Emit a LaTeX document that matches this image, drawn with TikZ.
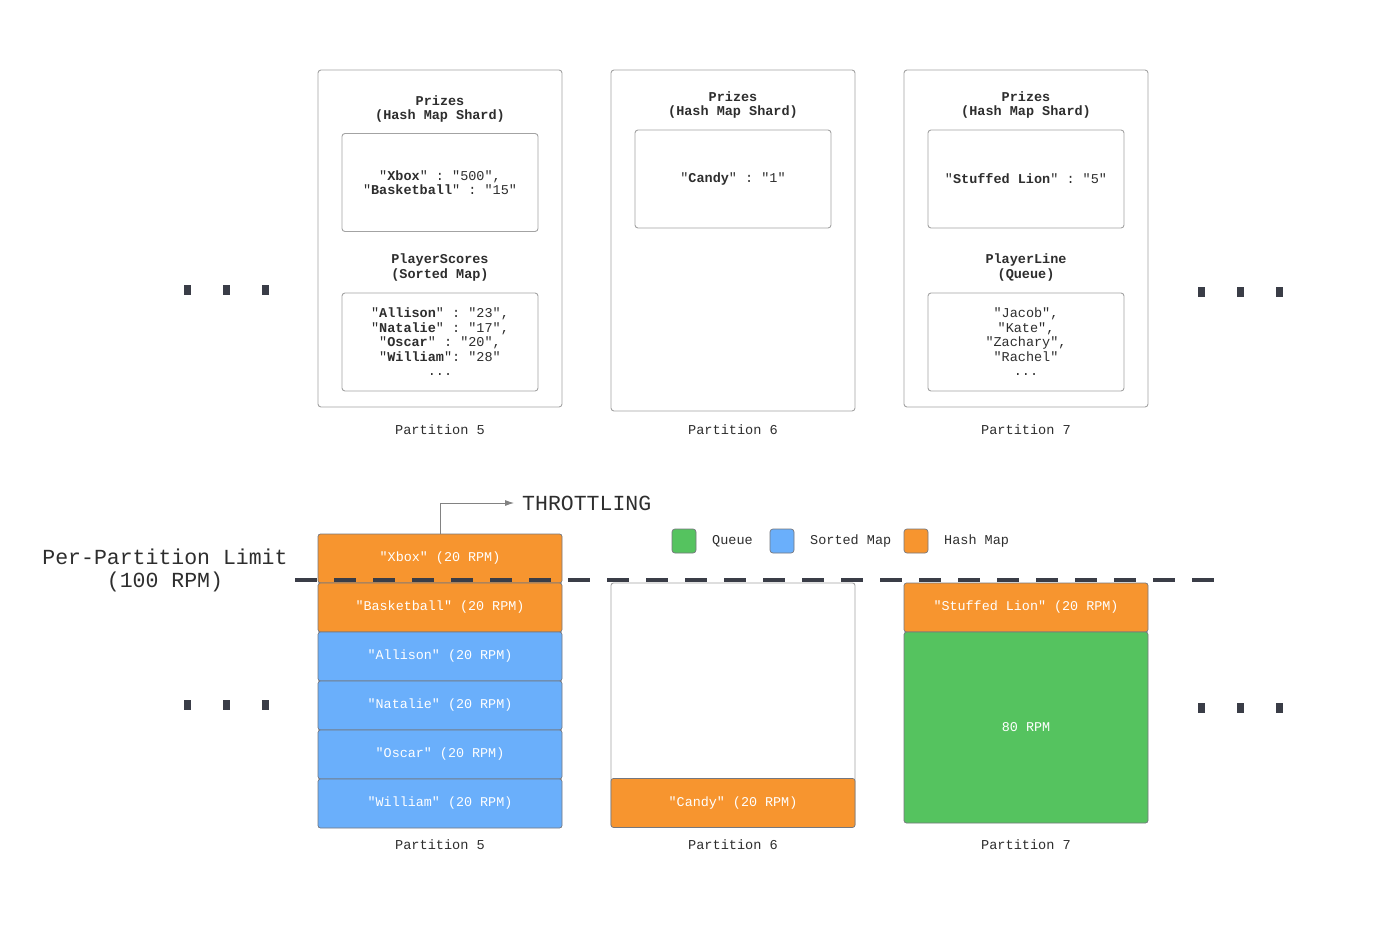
\documentclass[tikz,border=0pt]{standalone}
\usepackage{fontspec}
\setmonofont{Liberation Mono}
\usetikzlibrary{arrows.meta,positioning}
\definecolor{hashorange}{HTML}{F7952F}
\definecolor{sortblue}{HTML}{6AAFFB}
\definecolor{queuegreen}{HTML}{55C35F}
\definecolor{edgegray}{HTML}{A3A3A3}
\definecolor{inkdark}{HTML}{3A3D47}
\definecolor{textgray}{HTML}{2E2E2E}
\tikzset{
  partbox/.style={draw=edgegray, line width=0.9pt, rounded corners=3pt,
    minimum width=244pt, inner sep=0pt},
  shardbox/.style={draw=edgegray, line width=0.9pt, rounded corners=3pt,
    minimum width=196pt, minimum height=98pt, inner sep=0pt, align=center,
    text=textgray, font=\ttfamily\fontsize{13.5}{14.5}\selectfont},
  shardtitle/.style={align=center, text=textgray, inner sep=0pt,
    font=\ttfamily\bfseries\fontsize{13.5}{14.5}\selectfont},
  partlabel/.style={text=textgray, inner sep=0pt,
    font=\ttfamily\fontsize{13.6}{15}\selectfont},
  ratebox/.style={draw=inkdark!70, line width=0.7pt, rounded corners=2.5pt,
    minimum width=244pt, minimum height=49pt, inner sep=0pt, outer sep=0pt,
    text=white, font=\ttfamily\fontsize{13.4}{14}\selectfont},
  hashrate/.style={ratebox, fill=hashorange},
  sortrate/.style={ratebox, fill=sortblue},
  queuerate/.style={ratebox, fill=queuegreen},
  legendkey/.style={draw=inkdark!70, line width=0.7pt, rounded corners=3pt,
    minimum size=24pt, inner sep=0pt},
  legendtext/.style={anchor=west, inner sep=0pt, text=textgray,
    font=\ttfamily\fontsize{13.5}{15}\selectfont},
  dotmark/.style={fill=inkdark, minimum width=7pt, minimum height=10pt, inner sep=0pt},
  bigtext/.style={align=center, text=textgray, inner sep=0pt,
    font=\ttfamily\fontsize{21.5}{23}\selectfont}
}
\begin{document}
\begin{tikzpicture}[x=1pt, y=-1pt]
\useasboundingbox[fill=white] (0,0) rectangle (1400,934);

% top row: what each partition holds
\node[partbox, minimum height=337pt] (top5) at (440,238.5) {};
\node[partbox, minimum height=341pt] (top6) at (733,240.5) {};
\node[partbox, minimum height=337pt] (top7) at (1026,238.5) {};

\node[shardtitle] (title5) at (440,109) {Prizes\\(Hash Map Shard)};
\node[shardbox] (prizes5) at (440,182.5)
  {"\textbf{Xbox}" : "500",\\"\textbf{Basketball}" : "15"};
\node[shardtitle] (title5b) at (440,267.5) {PlayerScores\\(Sorted Map)};
\node[shardbox] (scores5) at (440,342)
  {"\textbf{Allison}" : "23",\\"\textbf{Natalie}" : "17",\\"\textbf{Oscar}" : "20",\\"\textbf{William}": "28"\\...};

\node[shardtitle] (title6) at (733,105) {Prizes\\(Hash Map Shard)};
\node[shardbox] (prizes6) at (733,179) {"\textbf{Candy}" : "1"};

\node[shardtitle] (title7) at (1026,105) {Prizes\\(Hash Map Shard)};
\node[shardbox] (prizes7) at (1026,179) {"\textbf{Stuffed Lion}" : "5"};
\node[shardtitle] (title7b) at (1026,267.5) {PlayerLine\\(Queue)};
\node[shardbox] (line7) at (1026,342)
  {"Jacob",\\"Kate",\\"Zachary",\\"Rachel"\\...};

\node[partlabel] (lbl5) at (440,430) {Partition 5};
\node[partlabel] (lbl6) at (733,430) {Partition 6};
\node[partlabel] (lbl7) at (1026,430) {Partition 7};

\foreach \x in {187,226,265} \node[dotmark] (dtl\x) at (\x,290) {};
\foreach \x in {1201,1240,1279} \node[dotmark] (dtr\x) at (\x,292) {};

% bottom row: request rate per key
\node[hashrate] (xbox) at (440,558.5) {"Xbox" (20 RPM)};
\node[hashrate, below=0pt of xbox] (basket) {"Basketball" (20 RPM)};
\node[sortrate, below=0pt of basket] (allison) {"Allison" (20 RPM)};
\node[sortrate, below=0pt of allison] (natalie) {"Natalie" (20 RPM)};
\node[sortrate, below=0pt of natalie] (oscar) {"Oscar" (20 RPM)};
\node[sortrate, below=0pt of oscar] (william) {"William" (20 RPM)};

\node[partbox, minimum height=244pt, rounded corners=2.5pt] (free6) at (733,705) {};
\node[hashrate, anchor=south] (candy) at (free6.south) {"Candy" (20 RPM)};

\node[hashrate] (lion) at (1026,607.5) {"Stuffed Lion" (20 RPM)};
\node[queuerate, minimum height=191pt, below=0pt of lion] (queue7) {80 RPM};

\node[partlabel] (blbl5) at (440,845) {Partition 5};
\node[partlabel] (blbl6) at (733,845) {Partition 6};
\node[partlabel] (blbl7) at (1026,845) {Partition 7};

\foreach \x in {187,226,265} \node[dotmark] (dbl\x) at (\x,705) {};
\foreach \x in {1201,1240,1279} \node[dotmark] (dbr\x) at (\x,708) {};

% legend
\node[legendkey, fill=queuegreen] (keyq) at (684,541) {};
\node[legendtext] (keyqt) at (712,541) {Queue};
\node[legendkey, fill=sortblue] (keys) at (782,541) {};
\node[legendtext] (keyst) at (810,541) {Sorted Map};
\node[legendkey, fill=hashorange] (keyh) at (916,541) {};
\node[legendtext] (keyht) at (944,541) {Hash Map};

% limit and throttling
\node[bigtext] (limit) at (165,570) {Per-Partition Limit\\(100 RPM)};
\node[bigtext, anchor=west] (throttle) at (522,503) {THROTTLING};
\draw[edgegray!80!black, line width=0.8pt, -{Latex[length=9pt,width=6pt]}, shorten >=8pt]
  (xbox.north) |- (throttle.west);

\coordinate (limitL) at (295,580);
\coordinate (limitR) at (1222,580);
\draw[inkdark, line width=4pt, dash pattern=on 22pt off 17pt] (limitL) -- (limitR);
\end{tikzpicture}
\end{document}
